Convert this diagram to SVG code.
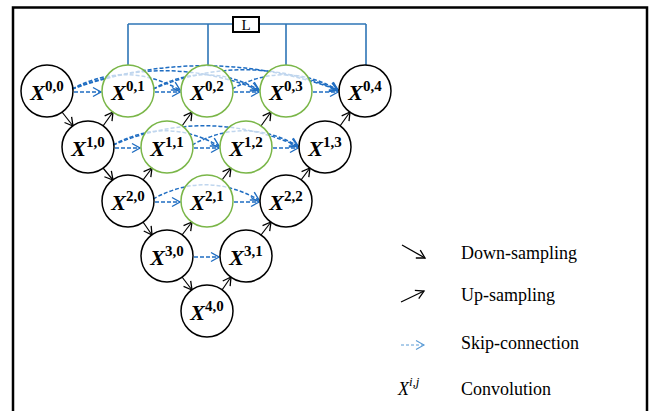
<svg xmlns="http://www.w3.org/2000/svg" width="652" height="411" viewBox="0 0 652 411">
  <defs>
    <marker id="open-black" markerUnits="userSpaceOnUse" markerWidth="12" markerHeight="12" refX="9" refY="5" orient="auto" overflow="visible">
      <path d="M1,0.5 L9,5 L1,9.5" fill="none" stroke="#000" stroke-width="1.3"/>
    </marker>
    <marker id="open-blue" markerUnits="userSpaceOnUse" markerWidth="12" markerHeight="12" refX="9" refY="5" orient="auto" overflow="visible">
      <path d="M1,0.5 L9,5 L1,9.5" fill="none" stroke="#1f6dc2" stroke-width="1.4"/>
    </marker>
    <marker id="open-light" markerUnits="userSpaceOnUse" markerWidth="12" markerHeight="12" refX="9" refY="5" orient="auto" overflow="visible">
      <path d="M1,0.5 L9,5 L1,9.5" fill="none" stroke="#5b9bd5" stroke-width="1.1"/>
    </marker>
  </defs>
  <style>
    .frame { fill: none; stroke: #000; stroke-width: 2.5; }
    .node circle { fill: #fff; fill-opacity: 0.72; stroke-width: 1.5; }
    .plain circle { stroke: #000; }
    .nested circle { stroke: #7ab648; }
    .lbl { font-family: "Liberation Serif", "DejaVu Serif", serif; font-weight: bold; font-size: 22px; fill: #000; }
    .lbl .x { font-style: italic; }
    .lbl .sup { font-size: 15px; }
    .skip { fill: none; stroke: #1f6dc2; stroke-width: 1.5; stroke-dasharray: 4 2; marker-end: url(#open-blue); }
    .samp { fill: none; stroke: #000; stroke-width: 1.2; marker-end: url(#open-black); }
    .loss { fill: none; stroke: #2e75b6; stroke-width: 1.6; }
    .legend { font-family: "Liberation Serif", "DejaVu Serif", serif; font-size: 18px; fill: #000; }
  </style>

  <rect class="frame" x="13" y="7.5" width="634" height="420"/>

  <!-- deep supervision lines to the loss box -->
  <g id="loss-lines">
    <path class="loss" d="M128,24 H366 M128,24 V65 M208,24 V65 M286,24 V65 M366,24 V65"/>
  </g>
  <g id="loss">
    <rect x="233" y="17" width="26" height="15" fill="#fff" stroke="#000" stroke-width="2"/>
    <text x="246" y="30" text-anchor="middle" font-family="Liberation Serif, serif" font-size="15">L</text>
  </g>

  <g id="connectors">
    <!-- skip connections, row 0 -->
    <path class="skip" d="M74,92 H101"/>
    <path class="skip" d="M155,92 H180"/>
    <path class="skip" d="M234,92 H259"/>
    <path class="skip" d="M313,92 H338"/>
    <path class="skip" d="M72,89 Q126,60 180,90"/>
    <path class="skip" d="M72,89 Q165,52 259,90"/>
    <path class="skip" d="M72,89 Q205,42 338,90"/>
    <path class="skip" d="M153,89 Q206,60 259,90"/>
    <path class="skip" d="M153,89 Q245,50 338,90"/>
    <path class="skip" d="M232,89 Q285,60 338,90"/>
    <!-- skip connections, row 1 -->
    <path class="skip" d="M115,148 H140"/>
    <path class="skip" d="M194,148 H219"/>
    <path class="skip" d="M273,148 H298"/>
    <path class="skip" d="M113,145 Q166,116 219,146"/>
    <path class="skip" d="M113,145 Q205,106 298,146"/>
    <path class="skip" d="M192,145 Q245,116 298,146"/>
    <!-- skip connections, row 2 -->
    <path class="skip" d="M155,202 H180"/>
    <path class="skip" d="M234,202 H259"/>
    <path class="skip" d="M153,199 Q206,170 259,200"/>
    <!-- skip connection, row 3 -->
    <path class="skip" d="M194,257 H219"/>

    <!-- down-sampling -->
    <path class="samp" d="M62,112 L73,126"/>
    <path class="samp" d="M103,168 L113,180"/>
    <path class="samp" d="M143,222 L152,235"/>
    <path class="samp" d="M182,277 L192,290"/>
    <!-- up-sampling -->
    <path class="samp" d="M103,126 L113,112"/>
    <path class="samp" d="M143,180 L152,168"/>
    <path class="samp" d="M182,126 L192,112"/>
    <path class="samp" d="M182,235 L192,222"/>
    <path class="samp" d="M222,180 L231,168"/>
    <path class="samp" d="M261,126 L271,112"/>
    <path class="samp" d="M222,290 L231,277"/>
    <path class="samp" d="M261,235 L271,222"/>
    <path class="samp" d="M301,180 L310,168"/>
    <path class="samp" d="M340,126 L350,112"/>
  </g>

  <!-- nodes -->
  <g id="x00" class="node plain"><circle cx="47" cy="91" r="26"/><text class="lbl" x="47" y="100" text-anchor="middle"><tspan class="x">X</tspan><tspan class="sup" dy="-9">0,0</tspan></text></g>
  <g id="x01" class="node nested"><circle cx="128" cy="91" r="26"/><text class="lbl" x="128" y="100" text-anchor="middle"><tspan class="x">X</tspan><tspan class="sup" dy="-9">0,1</tspan></text></g>
  <g id="x02" class="node nested"><circle cx="207" cy="91" r="26"/><text class="lbl" x="207" y="100" text-anchor="middle"><tspan class="x">X</tspan><tspan class="sup" dy="-9">0,2</tspan></text></g>
  <g id="x03" class="node nested"><circle cx="286" cy="91" r="26"/><text class="lbl" x="286" y="100" text-anchor="middle"><tspan class="x">X</tspan><tspan class="sup" dy="-9">0,3</tspan></text></g>
  <g id="x04" class="node plain"><circle cx="365" cy="91" r="26"/><text class="lbl" x="365" y="100" text-anchor="middle"><tspan class="x">X</tspan><tspan class="sup" dy="-9">0,4</tspan></text></g>

  <g id="x10" class="node plain"><circle cx="88" cy="147" r="26"/><text class="lbl" x="88" y="156" text-anchor="middle"><tspan class="x">X</tspan><tspan class="sup" dy="-9">1,0</tspan></text></g>
  <g id="x11" class="node nested"><circle cx="167" cy="147" r="26"/><text class="lbl" x="167" y="156" text-anchor="middle"><tspan class="x">X</tspan><tspan class="sup" dy="-9">1,1</tspan></text></g>
  <g id="x12" class="node nested"><circle cx="246" cy="147" r="26"/><text class="lbl" x="246" y="156" text-anchor="middle"><tspan class="x">X</tspan><tspan class="sup" dy="-9">1,2</tspan></text></g>
  <g id="x13" class="node plain"><circle cx="325" cy="147" r="26"/><text class="lbl" x="325" y="156" text-anchor="middle"><tspan class="x">X</tspan><tspan class="sup" dy="-9">1,3</tspan></text></g>

  <g id="x20" class="node plain"><circle cx="128" cy="201" r="26"/><text class="lbl" x="128" y="210" text-anchor="middle"><tspan class="x">X</tspan><tspan class="sup" dy="-9">2,0</tspan></text></g>
  <g id="x21" class="node nested"><circle cx="207" cy="201" r="26"/><text class="lbl" x="207" y="210" text-anchor="middle"><tspan class="x">X</tspan><tspan class="sup" dy="-9">2,1</tspan></text></g>
  <g id="x22" class="node plain"><circle cx="286" cy="201" r="26"/><text class="lbl" x="286" y="210" text-anchor="middle"><tspan class="x">X</tspan><tspan class="sup" dy="-9">2,2</tspan></text></g>

  <g id="x30" class="node plain"><circle cx="167" cy="256" r="26"/><text class="lbl" x="167" y="265" text-anchor="middle"><tspan class="x">X</tspan><tspan class="sup" dy="-9">3,0</tspan></text></g>
  <g id="x31" class="node plain"><circle cx="246" cy="256" r="26"/><text class="lbl" x="246" y="265" text-anchor="middle"><tspan class="x">X</tspan><tspan class="sup" dy="-9">3,1</tspan></text></g>

  <g id="x40" class="node plain"><circle cx="207" cy="311" r="26"/><text class="lbl" x="207" y="320" text-anchor="middle"><tspan class="x">X</tspan><tspan class="sup" dy="-9">4,0</tspan></text></g>

  <!-- legend -->
  <g id="legend">
    <path d="M402,245 L425,258" fill="none" stroke="#000" stroke-width="1.3" marker-end="url(#open-black)"/>
    <text class="legend" x="461" y="259">Down-sampling</text>
    <path d="M401,302 L424,291" fill="none" stroke="#000" stroke-width="1.3" marker-end="url(#open-black)"/>
    <text class="legend" x="461" y="301">Up-sampling</text>
    <path d="M401,345 H424" fill="none" stroke="#5b9bd5" stroke-width="1" stroke-dasharray="3 2" marker-end="url(#open-light)"/>
    <text class="legend" x="461" y="349">Skip-connection</text>
    <text class="legend" x="398" y="395"><tspan font-style="italic">X</tspan><tspan font-style="italic" font-size="13" dy="-9">i,j</tspan></text>
    <text class="legend" x="461" y="395">Convolution</text>
  </g>
</svg>
